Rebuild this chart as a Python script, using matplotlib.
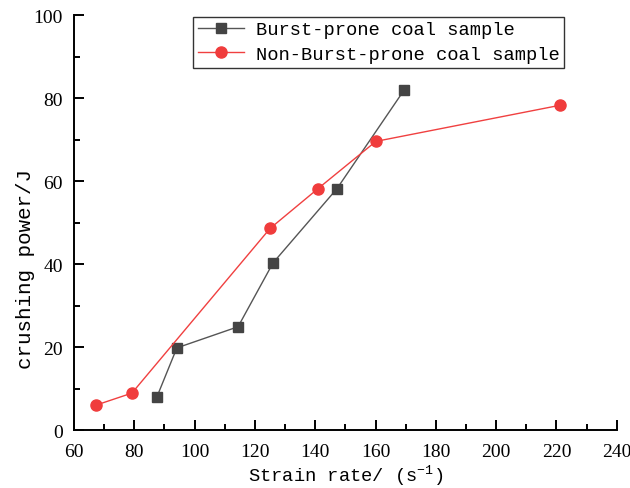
import matplotlib
matplotlib.use("Agg")
import matplotlib.pyplot as plt
from matplotlib.ticker import MultipleLocator

# strain rate (1/s) and crushing power (J) for both sample groups
burst_rate = [87.5, 94.1, 114.4, 126.0, 147.2, 169.4]
burst_power = [8.0, 19.8, 24.9, 40.3, 58.2, 81.9]
nonburst_rate = [67.3, 79.2, 125.0, 140.9, 160.1, 221.1]
nonburst_power = [6.0, 8.9, 48.6, 58.2, 69.6, 78.3]

plt.rcParams["font.family"] = ["Liberation Mono", "DejaVu Sans"]
plt.rcParams["mathtext.fontset"] = "custom"
plt.rcParams["mathtext.rm"] = "Liberation Mono"
plt.rcParams["mathtext.it"] = "Liberation Mono"

fig = plt.figure(figsize=(6.3, 4.89), dpi=100)
ax = fig.add_axes([0.1175, 0.1186, 0.8615, 0.848])

ax.plot(burst_rate, burst_power, color="#555555", linewidth=1.0,
        marker="s", markersize=7.2, markerfacecolor="#444444",
        markeredgecolor="#444444", label="Burst-prone coal sample")
ax.plot(nonburst_rate, nonburst_power, color="#f04040", linewidth=1.0,
        marker="o", markersize=8, markerfacecolor="#f03c3c",
        markeredgecolor="#f03c3c", label="Non-Burst-prone coal sample")

ax.set_xlim(60, 240)
ax.set_ylim(0, 100)
ax.xaxis.set_major_locator(MultipleLocator(20))
ax.xaxis.set_minor_locator(MultipleLocator(10))
ax.yaxis.set_major_locator(MultipleLocator(20))
ax.yaxis.set_minor_locator(MultipleLocator(10))
ax.tick_params(which="major", direction="in", length=7, width=1.4)
ax.tick_params(which="minor", direction="in", length=4, width=1.4)
ax.tick_params(axis="x", which="major", pad=9)
ax.tick_params(axis="y", which="major", pad=8)
for lab in ax.get_xticklabels() + ax.get_yticklabels():
    lab.set_fontfamily("Liberation Serif")
    lab.set_fontsize(14)

for side in ("top", "right"):
    ax.spines[side].set_visible(False)
for side in ("left", "bottom"):
    ax.spines[side].set_linewidth(1.4)

ax.set_xlabel("Strain rate/ (s$^{-1}$)", fontsize=13.5, labelpad=2)
ax.set_ylabel("crushing power/J", fontsize=15)
ax.yaxis.set_label_coords(-0.072, 0.39)

leg = ax.legend(loc="upper left", bbox_to_anchor=(0.219, 0.997), fontsize=13.5,
                frameon=True, fancybox=False, edgecolor="black",
                handlelength=2.5, borderpad=0.25, labelspacing=0.4,
                handletextpad=0.6, borderaxespad=0.0)
leg.get_frame().set_linewidth(1.0)

fig.savefig("out.png", dpi=100)
